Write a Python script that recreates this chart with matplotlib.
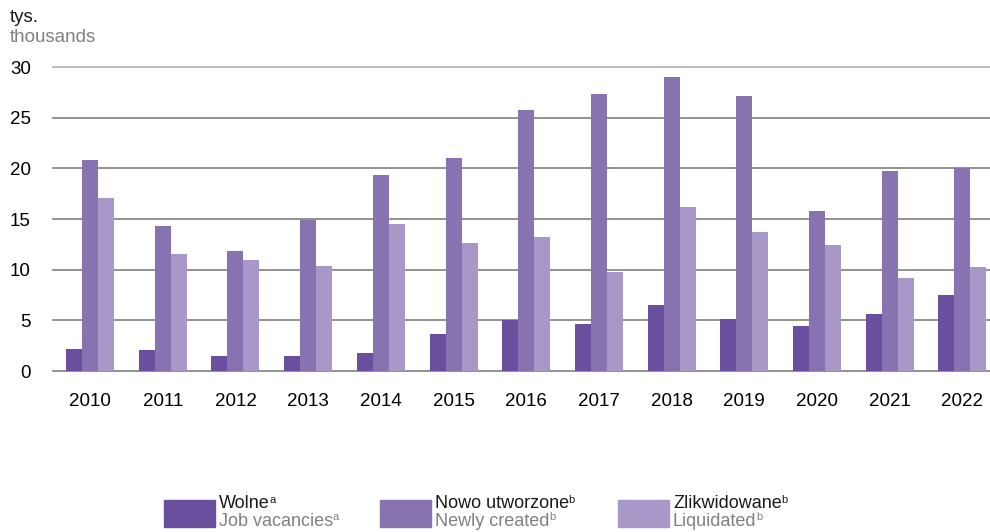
import numpy as np
import matplotlib.pyplot as plt
from matplotlib.patches import Rectangle

plt.rcParams['font.family'] = ['Liberation Sans', 'DejaVu Sans']

years = ['2010', '2011', '2012', '2013', '2014', '2015', '2016',
         '2017', '2018', '2019', '2020', '2021', '2022']
wolne = [2.2, 2.1, 1.5, 1.5, 1.8, 3.7, 5.05, 4.65, 6.5, 5.15, 4.45, 5.65, 7.5]
nowo = [20.8, 14.3, 11.8, 14.9, 19.3, 21.0, 25.8, 27.3, 29.0, 27.1, 15.8, 19.7, 20.0]
zlik = [17.1, 11.5, 11.0, 10.4, 14.55, 12.6, 13.2, 9.8, 16.2, 13.7, 12.4, 9.2, 10.3]

yticks = [0, 5, 10, 15, 20, 25, 30]
colors = ['#6b4f9f', '#8873b1', '#a898c8']
labels_pl = ['Wolne', 'Nowo utworzone', 'Zlikwidowane']
labels_en = ['Job vacancies', 'Newly created', 'Liquidated']
sups = ['a', 'b', 'b']

W, H = 990, 532
fig = plt.figure(figsize=(W / 100, H / 100), dpi=100)
ax = fig.add_axes([53 / W, 161 / H, (W - 53) / W, (371 - 67) / H])

x = np.arange(len(years))
bw = 0.22
for i, (vals, c) in enumerate(zip([wolne, nowo, zlik], colors)):
    ax.bar(x + (i - 1) * bw, vals, width=bw, color=c, zorder=3)

# gridlines
for t in yticks:
    ax.axhline(t, color='#b0b0b0' if t == 30 else '#7f7f7f', lw=1.2,
               zorder=1, clip_on=False)

ax.set_xlim(-0.51, 12.38)
ax.set_ylim(0, 30)
ax.set_yticks(yticks)
ax.set_yticklabels([str(t) for t in yticks], fontsize=13.5)
ax.set_xticks(x)
ax.set_xticklabels(years, fontsize=13.5)
ax.tick_params(axis='y', length=0, pad=16)
ax.tick_params(axis='x', length=0, pad=16)
for s in ax.spines.values():
    s.set_visible(False)

fig.text(10 / W, 1 - 18 / H, 'tys.', fontsize=13.5, va='center', color='#1a1a1a')
fig.text(10 / W, 1 - 37 / H, 'thousands', fontsize=13.5, va='center', color='#808080')

# legend
renderer = fig.canvas.get_renderer()
patch_x = [164, 380, 618]
for px, c, lp, le, sp in zip(patch_x, colors, labels_pl, labels_en, sups):
    fig.patches.append(Rectangle((px / W, 1 - 527 / H), 51 / W, 27 / H,
                                 transform=fig.transFigure, color=c))
    tx = (px + 55) / W
    for lab, y, col in [(lp, 504, '#1a1a1a'), (le, 521, '#808080')]:
        t = fig.text(tx, 1 - y / H, lab, fontsize=13, va='center', color=col)
        bb = t.get_window_extent(renderer)
        fig.text(bb.x1 / W - 0.5 / W, 1 - (y - 4) / H, sp, fontsize=8,
                 va='center', color=col)

fig.savefig('out.png', dpi=100)
